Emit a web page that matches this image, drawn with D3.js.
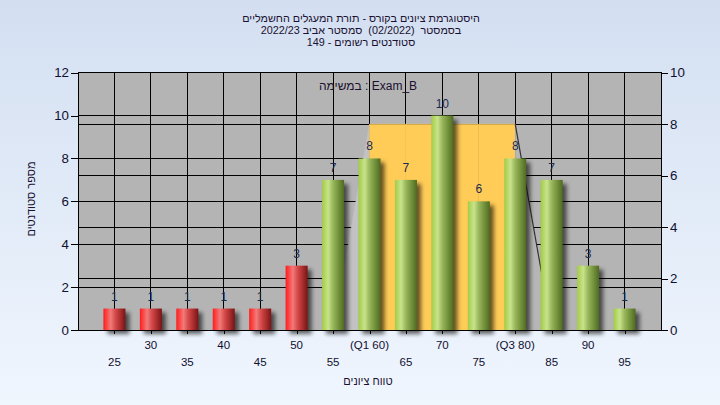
<!DOCTYPE html>
<html>
<head>
<meta charset="utf-8">
<script src="https://cdn.jsdelivr.net/npm/d3@7"></script>
<style>
  html, body { margin: 0; padding: 0; }
  body { width: 720px; height: 405px; overflow: hidden; }
  text { font-family: "Liberation Sans", Arial, sans-serif; white-space: pre; }
</style>
</head>
<body>
<svg id="chart" width="720" height="405"></svg>
<script>
// ---------- data ----------
const categories = [25, 30, 35, 40, 45, 50, 55, 60, 65, 70, 75, 80, 85, 90, 95];
const counts     = [1, 1, 1, 1, 1, 3, 7, 8, 7, 10, 6, 8, 7, 3, 1];
const xTickLabels = ['25', '30', '35', '40', '45', '50', '55', '(Q1 60)', '65', '70', '75', '(Q3 80)', '85', '90', '95'];
const passMark = 55;
// interquartile band (right axis)
const bandX = [55, 60, 65, 70, 75, 80, 85];
const bandY = [0, 8, 8, 8, 8, 8, 0];
const leftTicks  = [0, 2, 4, 6, 8, 10, 12];
const rightTicks = [0, 2, 4, 6, 8, 10];
const titleLines = [
  'היסטוגרמת ציונים בקורס - תורת המעגלים החשמליים',
  'בסמסטר  (02/2022)  סמסטר אביב 2022/23',
  'סטודנטים רשומים - 149'
];
const examLabel = 'במשימה : Exam_B';
const yTitle = 'מספר סטודנטים';
const xTitle = 'טווח ציונים';

// ---------- layout ----------
const W = 720, H = 405;
const P = { left: 78, right: 661, top: 72.7, bottom: 330 };
const svg = d3.select('#chart');
const defs = svg.append('defs');

const x  = d3.scaleLinear().domain([20, 100]).range([P.left, P.right]);
const yL = d3.scaleLinear().domain([0, 12]).range([P.bottom, P.top]);
const yR = d3.scaleLinear().domain([0, 10]).range([P.bottom, P.top]);
const barW = 22;

// background gradient
const bg = defs.append('linearGradient').attr('id', 'bg').attr('x1', 0).attr('y1', 0).attr('x2', 0).attr('y2', 1);
bg.append('stop').attr('offset', '0%').attr('stop-color', '#d3dff1');
bg.append('stop').attr('offset', '100%').attr('stop-color', '#f0f6fe');
svg.append('rect').attr('width', W).attr('height', H).attr('fill', 'url(#bg)');

// bar gradients
function barGrad(id, stops) {
  const g = defs.append('linearGradient').attr('id', id).attr('x1', 0).attr('y1', 0).attr('x2', 1).attr('y2', 0);
  stops.forEach(s => g.append('stop').attr('offset', s[0]).attr('stop-color', s[1]));
}
barGrad('gGreen', [[0, '#a2cc44'], [0.28, '#c8e38c'], [0.5, '#98b65a'], [0.8, '#6c8a36'], [1, '#4f6a22']]);
barGrad('gRed',   [[0, '#ff1c1c'], [0.33, '#f27a7a'], [0.55, '#d44848'], [0.82, '#a02828'], [1, '#781414']]);

const blur = defs.append('filter').attr('id', 'blur').attr('x', '-50%').attr('y', '-50%').attr('width', '200%').attr('height', '200%');
blur.append('feGaussianBlur').attr('stdDeviation', 2);

// plot area
svg.append('rect').attr('x', P.left).attr('y', P.top)
  .attr('width', P.right - P.left).attr('height', P.bottom - P.top).attr('fill', '#b4b4b4');

// grid lines
const grid = svg.append('g').attr('stroke', '#000').attr('stroke-width', 1).attr('shape-rendering', 'crispEdges');
leftTicks.filter(v => v > 0 && v < 12).forEach(v =>
  grid.append('line').attr('x1', P.left).attr('x2', P.right).attr('y1', yL(v)).attr('y2', yL(v)));
rightTicks.filter(v => v > 0 && v < 10).forEach(v =>
  grid.append('line').attr('x1', P.left).attr('x2', P.right).attr('y1', yR(v)).attr('y2', yR(v)));
categories.forEach(c =>
  grid.append('line').attr('x1', x(c)).attr('x2', x(c)).attr('y1', P.top).attr('y2', P.bottom));

// interquartile band
const band = svg.append('g');
for (let i = 0; i < bandX.length - 1; i++) {
  const x0 = x(bandX[i]), x1 = x(bandX[i + 1]);
  const y0 = yR(bandY[i]), y1 = yR(bandY[i + 1]);
  const pts = [[x0, P.bottom], [x0, y0], [x1, y1], [x1, P.bottom]];
  let fill = '#ffcc58';
  if (bandY[i + 1] > bandY[i]) fill = '#c2c2c2';
  else if (bandY[i + 1] < bandY[i]) fill = '#b6b6b6';
  band.append('path').attr('d', d3.line()(pts) + 'Z').attr('fill', fill).attr('stroke', fill).attr('stroke-width', 0.5);
  if (bandY[i + 1] < bandY[i]) {
    band.append('line').attr('x1', x0).attr('y1', y0).attr('x2', x1).attr('y2', y1)
      .attr('stroke', '#333').attr('stroke-width', 1.2);
  }
}

// bar shadows
svg.append('g').selectAll('rect').data(categories).join('rect')
  .attr('x', (c) => x(c) - barW / 2 + 4)
  .attr('y', (c, i) => yL(counts[i]) + 4)
  .attr('width', barW)
  .attr('height', (c, i) => P.bottom - yL(counts[i]))
  .attr('fill', '#000').attr('opacity', 0.6).attr('filter', 'url(#blur)');

// bars
svg.append('g').selectAll('rect').data(categories).join('rect')
  .attr('x', (c) => x(c) - barW / 2)
  .attr('y', (c, i) => yL(counts[i]))
  .attr('width', barW)
  .attr('height', (c, i) => P.bottom - yL(counts[i]))
  .attr('fill', c => c < passMark ? 'url(#gRed)' : 'url(#gGreen)');

// value labels
svg.append('g').selectAll('text').data(categories).join('text')
  .attr('x', c => x(c))
  .attr('y', (c, i) => yL(counts[i]) - 8)
  .attr('text-anchor', 'middle')
  .attr('font-size', 12)
  .attr('fill', '#1c2a50')
  .text((c, i) => counts[i]);

// plot border
svg.append('rect').attr('x', P.left).attr('y', P.top)
  .attr('width', P.right - P.left).attr('height', P.bottom - P.top)
  .attr('fill', 'none').attr('stroke', '#000').attr('shape-rendering', 'crispEdges');

// axes
const axL = svg.append('g').attr('transform', `translate(${P.left},0)`)
  .call(d3.axisLeft(yL).tickValues(leftTicks).tickSize(7).tickPadding(2).tickFormat(d3.format('d')));
const axR = svg.append('g').attr('transform', `translate(${P.right},0)`)
  .call(d3.axisRight(yR).tickValues(rightTicks).tickSize(7).tickPadding(2).tickFormat(d3.format('d')));
const axB = svg.append('g').attr('transform', `translate(0,${P.bottom})`)
  .call(d3.axisBottom(x).tickValues(categories).tickSize(4).tickFormat(''));
[axL, axR, axB].forEach(a => {
  a.select('.domain').remove();
  a.selectAll('line').attr('stroke', '#000').attr('shape-rendering', 'crispEdges');
  a.selectAll('text').attr('font-family', '"Liberation Sans", Arial, sans-serif')
    .attr('font-size', 13.3).attr('fill', '#101030');
});

// x labels (two staggered rows)
svg.append('g').selectAll('text').data(categories).join('text')
  .attr('x', c => x(c))
  .attr('y', (c, i) => i % 2 === 1 ? 349 : 366)
  .attr('text-anchor', 'middle')
  .attr('font-size', 11.5)
  .attr('fill', '#101030')
  .text((c, i) => xTickLabels[i]);

// titles (right-to-left)
svg.append('g').selectAll('text').data(titleLines).join('text')
  .attr('x', 361)
  .attr('y', (d, i) => 22 + i * 12)
  .attr('direction', 'rtl')
  .attr('text-anchor', 'middle')
  .attr('font-size', 10.8)
  .attr('fill', '#1a1030')
  .text(d => d);

svg.append('text').attr('x', 368).attr('y', 90).attr('text-anchor', 'middle')
  .attr('font-size', 12).attr('fill', '#1a1030').text(examLabel);

svg.append('text').attr('transform', 'translate(35,199) rotate(-90)')
  .attr('direction', 'rtl')
  .attr('text-anchor', 'middle').attr('font-size', 11).attr('fill', '#1a1030').text(yTitle);

svg.append('text').attr('x', 368).attr('y', 385).attr('direction', 'rtl').attr('text-anchor', 'middle')
  .attr('font-size', 11).attr('fill', '#1a1030').text(xTitle);
</script>
</body>
</html>
